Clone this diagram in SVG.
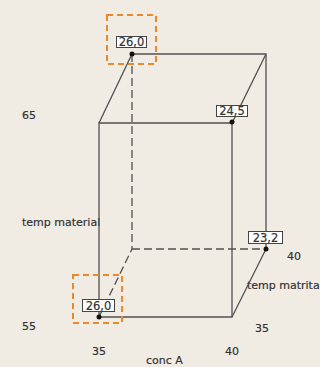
<svg xmlns="http://www.w3.org/2000/svg" width="320" height="367" viewBox="0 0 320 367">
<style>
.edge{stroke:#505050;stroke-width:1.3;fill:none}
.dash{stroke-dasharray:8,4}
.sel{fill:none;stroke:#e8892e;stroke-width:2;stroke-dasharray:6,4}
.lbl{fill:#fff;stroke:#444;stroke-width:1}
.lt{font-family:"DejaVu Sans",Verdana,sans-serif;font-size:11.5px;fill:#333;text-anchor:middle;stroke:#333;stroke-width:0.2}
.ax{font-family:"DejaVu Sans",Verdana,sans-serif;font-size:11px;fill:#333;stroke:#333;stroke-width:0.2}
.dot{fill:#111}
</style>
<rect width="320" height="367" fill="#f0ece4"/>
<g id="axis-labels">
<text class="ax" x="22" y="119">65</text>
<text class="ax" x="22" y="226">temp material</text>
<text class="ax" x="22" y="330">55</text>
<text class="ax" x="92" y="355">35</text>
<text class="ax" x="225" y="355">40</text>
<text class="ax" x="146" y="364">conc A</text>
<text class="ax" x="255" y="332">35</text>
<text class="ax" x="287" y="260">40</text>
<text class="ax" x="247" y="289">temp matrita</text>
</g>
<g id="connectors">
<line class="edge dash" x1="132" y1="54" x2="132" y2="249"/>
<line class="edge dash" x1="132" y1="249" x2="266" y2="249"/>
<line class="edge dash" x1="99" y1="317" x2="132" y2="249"/>
<polyline class="edge" points="99,317 99,123 232,123 232,317 99,317"/>
<line class="edge" x1="99" y1="123" x2="132" y2="54"/>
<polyline class="edge" points="132,54 266,54 266,249"/>
<line class="edge" x1="232" y1="123" x2="266" y2="54"/>
<line class="edge" x1="232" y1="317" x2="266" y2="249"/>
</g>
<g id="sel-top"><rect class="sel" x="107" y="15" width="49" height="49"/></g>
<g id="sel-bottom"><rect class="sel" x="73" y="275" width="49" height="48"/></g>
<g id="p1">
<circle class="dot" cx="132" cy="54" r="2.5"/>
<rect class="lbl" x="116.5" y="36.5" width="30" height="11"/>
<text class="lt" x="131.5" y="46">26,0</text>
</g>
<g id="p2">
<circle class="dot" cx="232" cy="122" r="2.5"/>
<rect class="lbl" x="216.5" y="105.5" width="31" height="11"/>
<text class="lt" x="232" y="115">24,5</text>
</g>
<g id="p3">
<circle class="dot" cx="266" cy="249" r="2.5"/>
<rect class="lbl" x="248.5" y="231.5" width="34" height="12"/>
<text class="lt" x="265.5" y="241.5">23,2</text>
</g>
<g id="p4">
<circle class="dot" cx="99" cy="317" r="2.5"/>
<rect class="lbl" x="82.5" y="299.5" width="32" height="12"/>
<text class="lt" x="98.5" y="309.5">26,0</text>
</g>
</svg>
